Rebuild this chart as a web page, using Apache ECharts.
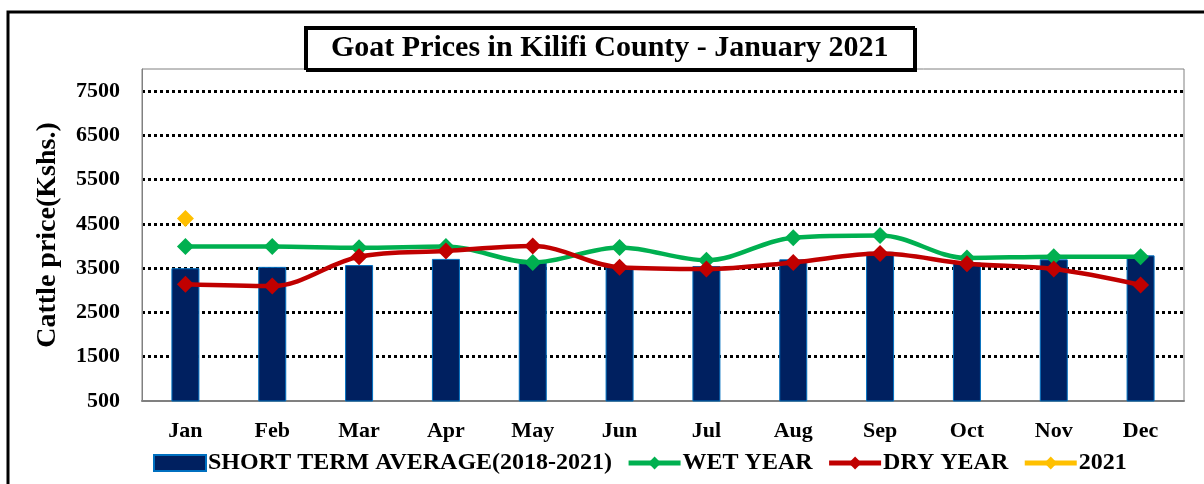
<!DOCTYPE html>
<html>
<head>
<meta charset="utf-8">
<script src="https://cdn.jsdelivr.net/npm/echarts@6/dist/echarts.min.js"></script>
<style>
  html, body { margin: 0; padding: 0; background: #fff; }
  #main { width: 1204px; height: 484px; }
</style>
</head>
<body>
<div id="main"></div>
<script>
// months on the x axis
let months = ['Jan', 'Feb', 'Mar', 'Apr', 'May', 'Jun', 'Jul', 'Aug', 'Sep', 'Oct', 'Nov', 'Dec'];

// values (Kshs.)
let shortTermAvg = [3500, 3530, 3570, 3710, 3630, 3550, 3550, 3700, 3870, 3630, 3700, 3790];
let wetYear = [3990, 3990, 3960, 3990, 3630, 3970, 3680, 4190, 4240, 3730, 3760, 3760];
let dryYear = [3140, 3100, 3760, 3890, 4000, 3520, 3480, 3630, 3830, 3600, 3480, 3120];
let year2021 = [4620, '-', '-', '-', '-', '-', '-', '-', '-', '-', '-', '-'];

let serif = '"Liberation Serif", "DejaVu Serif", serif';

let chart = echarts.init(document.getElementById('main'));

chart.setOption({
    animation: false,
    backgroundColor: '#fff',
    title: {
        text: 'Goat Prices in Kilifi County - January 2021',
        left: 305,
        top: 27,
        padding: [6, 26, 6, 26],
        borderColor: '#000',
        borderWidth: 2,
        backgroundColor: '#fff',
        shadowColor: '#000',
        shadowOffsetX: 2,
        shadowOffsetY: 2,
        shadowBlur: 0,
        textStyle: {
            fontFamily: serif,
            fontWeight: 'bold',
            fontSize: 30,
            color: '#000'
        }
    },
    legend: {
        left: 148,
        top: 446,
        itemGap: 14,
        itemWidth: 52,
        itemHeight: 16,
        textStyle: {
            fontFamily: serif,
            fontWeight: 'bold',
            fontSize: 24,
            color: '#000',
            padding: [0, 0, 0, -3]
        },
        data: [
            { name: 'SHORT TERM AVERAGE(2018-2021)', icon: 'rect' },
            { name: 'WET YEAR', lineStyle: { width: 5 } },
            { name: 'DRY YEAR', lineStyle: { width: 5 } },
            { name: '2021', lineStyle: { width: 5 } }
        ]
    },
    grid: {
        left: 142,
        right: 20,
        top: 69,
        bottom: 83,
        show: true,
        borderColor: '#808080',
        borderWidth: 1
    },
    xAxis: {
        type: 'category',
        data: months,
        axisLine: { lineStyle: { color: '#808080', width: 2 } },
        axisTick: { length: 8, lineStyle: { color: '#808080', width: 2 } },
        axisLabel: {
            margin: 19,
            fontFamily: serif,
            fontWeight: 'bold',
            fontSize: 22,
            color: '#000'
        }
    },
    yAxis: {
        type: 'value',
        min: 500,
        max: 8000,
        interval: 1000,
        name: 'Cattle price(Kshs.)',
        nameLocation: 'middle',
        nameGap: 80,
        nameTextStyle: {
            fontFamily: serif,
            fontWeight: 'bold',
            fontSize: 28,
            color: '#000'
        },
        axisLine: { show: true, lineStyle: { color: '#808080' } },
        axisTick: { show: false },
        axisLabel: {
            showMaxLabel: false,
            formatter: v => String(v),
            margin: 22,
            fontFamily: serif,
            fontWeight: 'bold',
            fontSize: 22,
            color: '#000'
        },
        splitLine: {
            show: true,
            showMinLine: false,
            showMaxLine: false,
            lineStyle: { color: '#000', width: 3, type: [3, 3] }
        }
    },
    series: [
        {
            name: 'SHORT TERM AVERAGE(2018-2021)',
            type: 'bar',
            barWidth: 28,
            data: shortTermAvg,
            itemStyle: { color: '#002060', borderColor: '#0070C0', borderWidth: 1 }
        },
        {
            name: 'WET YEAR',
            type: 'line',
            smooth: 0.35,
            data: wetYear,
            symbol: 'diamond',
            symbolSize: 17,
            lineStyle: { color: '#00B050', width: 4.5 },
            itemStyle: { color: '#00B050' }
        },
        {
            name: 'DRY YEAR',
            type: 'line',
            smooth: 0.35,
            data: dryYear,
            symbol: 'diamond',
            symbolSize: 17,
            lineStyle: { color: '#C00000', width: 4.5 },
            itemStyle: { color: '#C00000' }
        },
        {
            name: '2021',
            type: 'line',
            data: year2021,
            symbol: 'diamond',
            symbolSize: 17,
            lineStyle: { color: '#FFC000', width: 4.5 },
            itemStyle: { color: '#FFC000' }
        }
    ],
    graphic: [
        {
            type: 'rect',
            shape: { x: 8, y: 12, width: 1220, height: 500 },
            style: { fill: 'none', stroke: '#000', lineWidth: 3 },
            silent: true
        }
    ]
});

window.addEventListener('resize', () => { chart.resize() });
</script>
</body>
</html>
